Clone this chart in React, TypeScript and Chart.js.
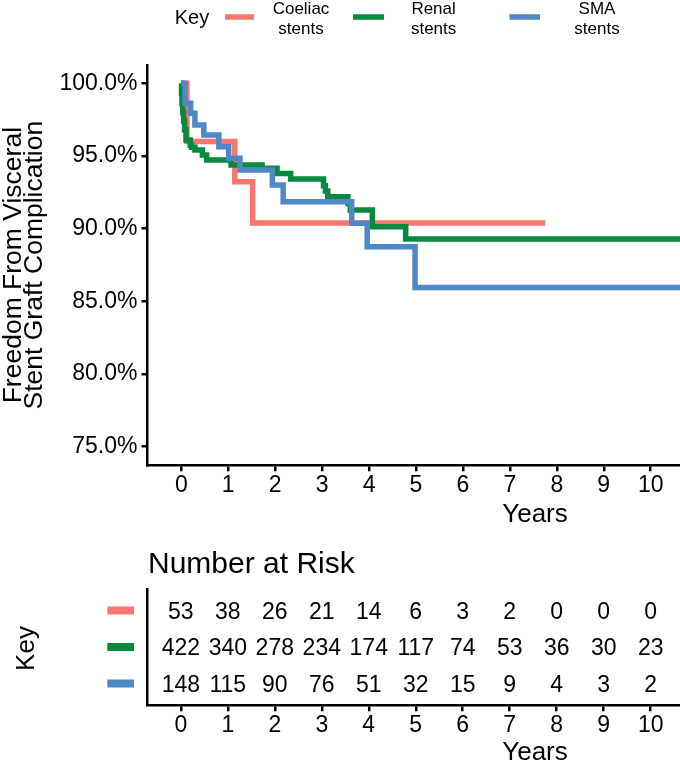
import React, { useEffect, useRef } from 'react';
import { Chart, registerables } from 'chart.js';

Chart.register(...registerables);

const FONT = "'Liberation Sans', Arial, Helvetica, sans-serif";

// ---- data ----
const SERIES_NAMES = ['Coeliac stents', 'Renal stents', 'SMA stents'];
const LEGEND_LINES = [['Coeliac', 'stents'], ['Renal', 'stents'], ['SMA', 'stents']];
const COLORS = ['#F8766D', '#078A3E', '#4E88C6'];

const COELIAC_T = [0, 0.12, 1.14, 1.52, 7.75];
const COELIAC_S = [100, 96.0, 93.23, 90.39, 90.39];

const RENAL_T = [0, 0.005, 0.015, 0.03, 0.05, 0.07, 0.1, 0.19, 0.22, 0.29, 0.45, 0.54, 1.06, 1.72, 2.04, 2.33, 3.03, 3.07, 3.12, 3.55, 3.6, 4.07, 4.78, 10.8];
const RENAL_S = [100, 99.3, 98.6, 98.0, 97.4, 96.8, 96.1, 95.75, 95.6, 95.41, 95.07, 94.72, 94.38, 94.15, 93.8, 93.41, 92.95, 92.6, 92.2, 91.74, 91.28, 90.13, 89.29, 89.29];

const SMA_T = [0, 0.08, 0.2, 0.29, 0.48, 0.8, 1.01, 1.25, 1.94, 2.17, 3.63, 3.96, 4.98, 10.8];
const SMA_S = [100, 98.62, 97.94, 97.13, 96.44, 95.64, 94.84, 94.03, 93.0, 91.85, 90.37, 88.76, 85.95, 85.95];

const YEAR_TICKS = [0, 1, 2, 3, 4, 5, 6, 7, 8, 9, 10];
const SURV_TICKS = [75, 80, 85, 90, 95, 100];

const RISK_COELIAC = [53, 38, 26, 21, 14, 6, 3, 2, 0, 0, 0];
const RISK_RENAL = [422, 340, 278, 234, 174, 117, 74, 53, 36, 30, 23];
const RISK_SMA = [148, 115, 90, 76, 51, 32, 15, 9, 4, 3, 2];

const Y_TITLE = ['Freedom From Visceral', 'Stent Graft Complication'];
const X_TITLE = 'Years';
const TABLE_TITLE = 'Number at Risk';
const KEY_TITLE = 'Key';

const CURVES = [
  { t: COELIAC_T, s: COELIAC_S },
  { t: RENAL_T, s: RENAL_S },
  { t: SMA_T, s: SMA_S },
];
const RISKS = [RISK_COELIAC, RISK_RENAL, RISK_SMA];

const X_MIN = -0.72;
const X_MAX = 10.624;

function axisCommon() {
  return {
    grid: { display: true, drawOnChartArea: false, drawTicks: true, tickLength: 6, color: '#000', lineWidth: 2.5 },
    border: { display: true, color: '#000', width: 2.5 },
  };
}

const topDecor = {
  id: 'topDecor',
  afterDraw(chart: any) {
    const ctx = chart.ctx;
    ctx.save();
    ctx.fillStyle = '#000';
    // legend
    ctx.font = `20px ${FONT}`;
    ctx.textAlign = 'center';
    ctx.textBaseline = 'middle';
    ctx.fillText(KEY_TITLE, 192, 18);
    const sw = [[225, 254], [353, 384], [509.5, 540]];
    const lx = [301, 433.6, 597];
    ctx.font = `17px ${FONT}`;
    ctx.textBaseline = 'alphabetic';
    for (let i = 0; i < 3; i++) {
      ctx.strokeStyle = COLORS[i];
      ctx.lineWidth = 5.5;
      ctx.beginPath();
      ctx.moveTo(sw[i][0], 17);
      ctx.lineTo(sw[i][1], 17);
      ctx.stroke();
      ctx.fillText(LEGEND_LINES[i][0], lx[i], 14);
      ctx.fillText(LEGEND_LINES[i][1], lx[i], 33.5);
    }
    // y title
    ctx.font = `26.5px ${FONT}`;
    const cy = (chart.chartArea.top + chart.chartArea.bottom) / 2;
    const bases = [20.7, 41.7];
    for (let i = 0; i < Y_TITLE.length; i++) {
      ctx.save();
      ctx.translate(bases[i], cy);
      ctx.rotate(-Math.PI / 2);
      ctx.fillText(Y_TITLE[i], 0, 0);
      ctx.restore();
    }
    // x title
    ctx.font = `26px ${FONT}`;
    ctx.fillText(X_TITLE, 535, 521.5);
    ctx.restore();
  },
};

const tableDecor = {
  id: 'tableDecor',
  afterDraw(chart: any) {
    const ctx = chart.ctx;
    const xs = chart.scales.x;
    const ys = chart.scales.y;
    ctx.save();
    ctx.fillStyle = '#000';
    ctx.font = `30px ${FONT}`;
    ctx.textAlign = 'left';
    ctx.textBaseline = 'alphabetic';
    ctx.fillText(TABLE_TITLE, 148, 32.5);
    // key title
    ctx.font = `26px ${FONT}`;
    ctx.textAlign = 'center';
    ctx.save();
    ctx.translate(34, ys.getPixelForValue(2));
    ctx.rotate(-Math.PI / 2);
    ctx.fillText(KEY_TITLE, 0, 0);
    ctx.restore();
    // x title
    ctx.fillText(X_TITLE, 535, 220.3);
    // rows
    ctx.font = `23px ${FONT}`;
    ctx.textBaseline = 'middle';
    for (let r = 0; r < RISKS.length; r++) {
      const py = ys.getPixelForValue(r + 1);
      ctx.fillStyle = COLORS[r];
      ctx.fillRect(107.3, py - 5.5, 26.7, 8);
      ctx.fillStyle = '#000';
      for (let i = 0; i < YEAR_TICKS.length; i++) {
        ctx.fillText(String(RISKS[r][i]), xs.getPixelForValue(YEAR_TICKS[i]), py + 0.5);
      }
    }
    ctx.restore();
  },
};

export default function App() {
  const topRef = useRef<HTMLCanvasElement>(null);
  const riskRef = useRef<HTMLCanvasElement>(null);

  useEffect(() => {
    const datasets = CURVES.map((c, i) => ({
      label: SERIES_NAMES[i],
      data: c.t.map((t, j) => ({ x: t, y: c.s[j] })),
      borderColor: COLORS[i],
      backgroundColor: COLORS[i],
      borderWidth: 5.5,
      stepped: true as const,
      pointRadius: 0,
      fill: false,
      borderCapStyle: 'butt' as const,
      borderJoinStyle: 'miter' as const,
      order: 3 - i,
    }));

    const top = new Chart(topRef.current!, {
      type: 'line',
      data: { datasets },
      options: {
        responsive: false,
        animation: false,
        layout: { padding: { top: 65, left: 0, right: 0, bottom: 0 } },
        plugins: { legend: { display: false }, tooltip: { enabled: false } },
        scales: {
          x: {
            type: 'linear',
            min: X_MIN,
            max: X_MAX,
            afterBuildTicks: (s: any) => { s.ticks = YEAR_TICKS.map((v) => ({ value: v })); },
            afterFit: (s: any) => { s.height = 540 - 465.3; },
            ticks: { font: { family: FONT, size: 23 }, color: '#000', padding: 1, maxRotation: 0, autoSkip: false },
            ...axisCommon(),
          },
          y: {
            type: 'linear',
            min: 73.72,
            max: 101.26,
            afterBuildTicks: (s: any) => { s.ticks = SURV_TICKS.map((v) => ({ value: v })); },
            afterFit: (s: any) => { s.width = 147.5; },
            ticks: {
              font: { family: FONT, size: 23 },
              color: '#000',
              padding: 4,
              callback: (v: any) => Number(v).toFixed(1) + '%',
            },
            ...axisCommon(),
          },
        },
      },
      plugins: [topDecor],
    } as any);

    const risk = new Chart(riskRef.current!, {
      type: 'scatter',
      data: {
        datasets: RISKS.map((r, i) => ({
          label: SERIES_NAMES[i],
          data: YEAR_TICKS.map((t) => ({ x: t, y: i + 1 })),
          pointRadius: 0,
          showLine: false,
        })),
      },
      options: {
        responsive: false,
        animation: false,
        layout: { padding: { top: 49, left: 0, right: 0, bottom: 0 } },
        plugins: { legend: { display: false }, tooltip: { enabled: false } },
        scales: {
          x: {
            type: 'linear',
            min: X_MIN,
            max: X_MAX,
            afterBuildTicks: (s: any) => { s.ticks = YEAR_TICKS.map((v) => ({ value: v })); },
            afterFit: (s: any) => { s.height = 223 - 165.3; },
            ticks: { font: { family: FONT, size: 23 }, color: '#000', padding: 1, maxRotation: 0, autoSkip: false },
            ...axisCommon(),
          },
          y: {
            type: 'linear',
            reverse: true,
            min: 0.37,
            max: 3.556,
            afterFit: (s: any) => { s.width = 147; },
            ticks: { display: false },
            grid: { display: false },
            border: { display: true, color: '#000', width: 2.5 },
          },
        },
      },
      plugins: [tableDecor],
    } as any);

    return () => {
      top.destroy();
      risk.destroy();
    };
  }, []);

  return (
    <div style={{ position: 'absolute', left: 0, top: 0, width: 680, height: 763, background: '#fff' }}>
      <canvas ref={topRef} width={680} height={540} style={{ position: 'absolute', left: 0, top: 0 }} />
      <canvas ref={riskRef} width={680} height={223} style={{ position: 'absolute', left: 0, top: 540 }} />
    </div>
  );
}
